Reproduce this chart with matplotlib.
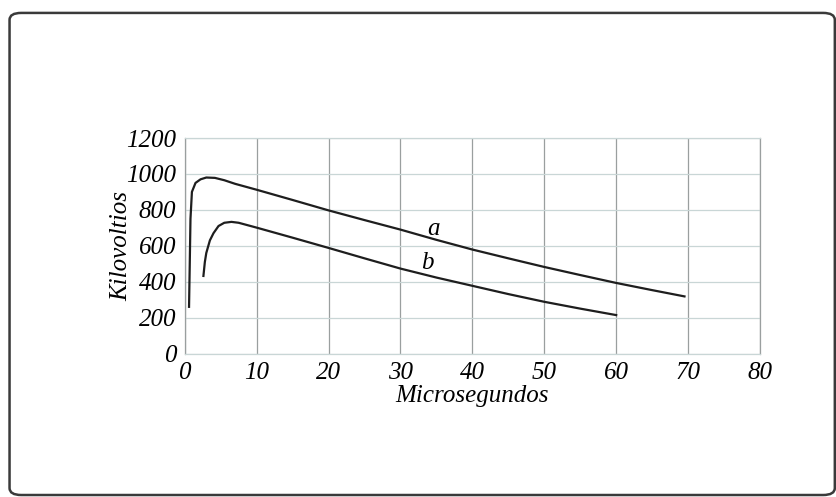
import numpy as np
import matplotlib.pyplot as plt
from matplotlib.patches import FancyBboxPatch

plt.rcParams['font.family'] = ['Liberation Serif', 'DejaVu Serif']
plt.rcParams['font.style'] = 'italic'

# curve a
a_t = [0.6, 0.7, 0.8, 1.0, 1.5, 2.2, 3.0, 4.2, 5.5, 7.0, 10, 15, 20, 25, 30,
       35, 40, 45, 50, 55, 60, 65, 69.5]
a_kv = [260, 500, 750, 900, 950, 970, 980, 978, 965, 945, 912, 855, 797, 743,
        690, 633, 579, 530, 482, 437, 393, 353, 318]

# curve b
b_t = [2.6, 2.8, 3.0, 3.5, 4.0, 4.7, 5.5, 6.5, 7.5, 10, 15, 20, 25, 30, 35,
       40, 45, 50, 55, 60]
b_kv = [432, 510, 560, 630, 670, 710, 728, 733, 728, 701, 645, 588, 530, 473,
        423, 377, 331, 288, 250, 214]

xticks = [0, 10, 20, 30, 40, 50, 60, 70, 80]
yticks = [0, 200, 400, 600, 800, 1000, 1200]

fig = plt.figure(figsize=(8.37, 4.97), dpi=100)
ax = fig.add_axes([0.2207, 0.2887, 0.6873, 0.4336])

# outer rounded frame
frame = FancyBboxPatch((0.0114, 0.004), 0.986, 0.97, boxstyle="round,pad=0,rounding_size=0.014",
                       transform=fig.transFigure, fill=False, edgecolor='#3a3a3a', linewidth=1.8)
fig.patches.append(frame)

ax.set_xlim(0, 80)
ax.set_ylim(0, 1200)
ax.set_xticks(xticks)
ax.set_yticks(yticks)
ax.tick_params(length=0, labelsize=18, pad=6)
for lbl in ax.get_xticklabels() + ax.get_yticklabels():
    lbl.set_fontstyle('italic')

# grid: vertical lines darker than horizontal
ax.xaxis.grid(True, color='#9a9f9f', linewidth=0.9)
ax.yaxis.grid(True, color='#c9d6d6', linewidth=0.9)
for s in ax.spines.values():
    s.set_color('#c9d6d6')
    s.set_linewidth(0.9)
ax.spines['right'].set_color('#9a9f9f')
ax.spines['left'].set_color('#9a9f9f')

ax.plot(a_t, a_kv, color='#1e1e1e', linewidth=1.6, solid_joinstyle='round')
ax.plot(b_t, b_kv, color='#1e1e1e', linewidth=1.6, solid_joinstyle='round')

ax.text(34.6, 692, 'a', fontsize=18, style='italic', ha='center', va='center')
ax.text(33.7, 502, 'b', fontsize=18, style='italic', ha='center', va='center')

ax.set_xlabel('Microsegundos', fontsize=18, style='italic', labelpad=1)
ax.set_ylabel('Kilovoltios', fontsize=18, style='italic', labelpad=-4)

fig.savefig('out.png', dpi=100)
